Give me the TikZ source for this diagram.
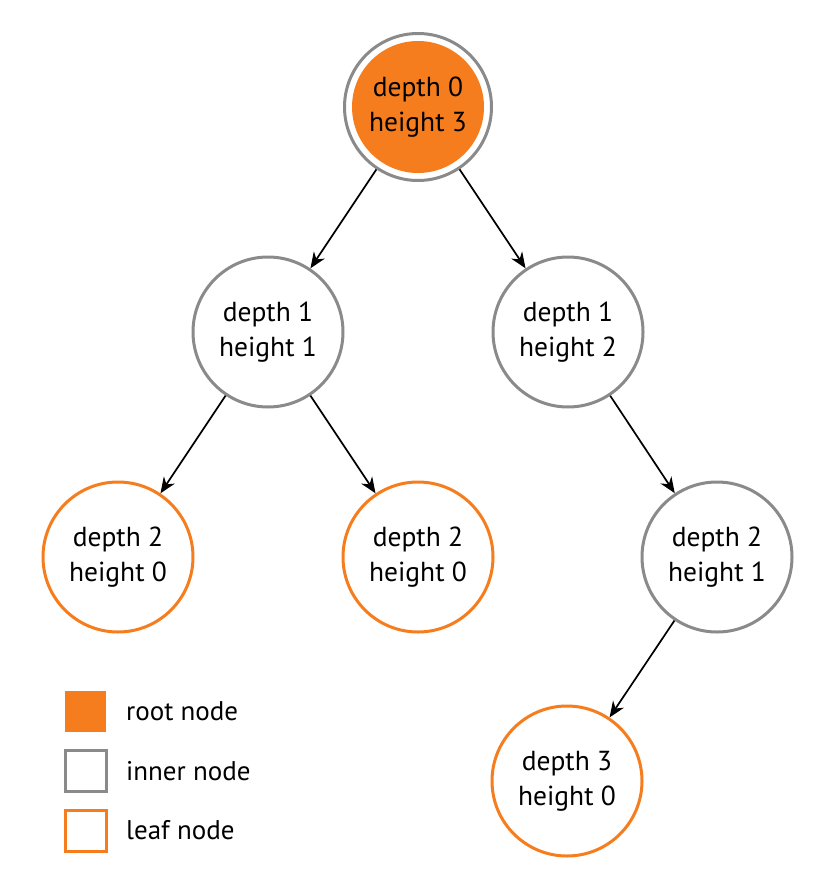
\documentclass[tikz,border=0pt]{standalone}
\usepackage{fontspec}
\setmainfont{PT Sans}
\usetikzlibrary{arrows.meta}
\definecolor{treeorange}{RGB}{246,125,30}
\definecolor{treegray}{RGB}{138,138,138}
\tikzset{
  tnode/.style={circle, minimum size=150pt, inner sep=0pt, line width=3pt, fill=white,
    align=center, font=\fontsize{27.5}{35}\selectfont},
  inner/.style={tnode, draw=treegray},
  leaf/.style={tnode, draw=treeorange},
  rootn/.style={tnode, draw=treegray, minimum size=147pt,
    path picture={\fill[treeorange] (path picture bounding box.center) circle (66pt);}},
  edge/.style={-{Stealth[length=16pt,width=13pt]}, line width=1.7pt, black},
  legbox/.style={minimum size=41pt, inner sep=0pt, line width=3pt},
  legtext/.style={anchor=west, font=\fontsize{27}{30}\selectfont, inner sep=0pt}
}
\begin{document}
\begin{tikzpicture}[x=1pt,y=-1pt]
\useasboundingbox (0,0) rectangle (834,886);
\node[rootn] (r) at (418,107) {depth 0\\height 3};
\node[inner] (a) at (268,332) {depth 1\\height 1};
\node[inner] (b) at (568,332) {depth 1\\height 2};
\node[leaf] (c) at (118,557) {depth 2\\height 0};
\node[leaf] (d) at (418,557) {depth 2\\height 0};
\node[inner] (e) at (717,557) {depth 2\\height 1};
\node[leaf] (f) at (567,781) {depth 3\\height 0};
\draw[edge] (r) -- (a);
\draw[edge] (r) -- (b);
\draw[edge] (a) -- (c);
\draw[edge] (a) -- (d);
\draw[edge] (b) -- (e);
\draw[edge] (e) -- (f);
\node[legbox, fill=treeorange] (l1) at (85.5,711.5) {};
\node[legbox, draw=treegray, fill=white] (l2) at (85.5,771) {};
\node[legbox, draw=treeorange, fill=white] (l3) at (85.5,830.5) {};
\node[legtext] (t1) at (126,711.5) {root node};
\node[legtext] (t2) at (126,771) {inner node};
\node[legtext] (t3) at (126,830.5) {leaf node};
\end{tikzpicture}
\end{document}
